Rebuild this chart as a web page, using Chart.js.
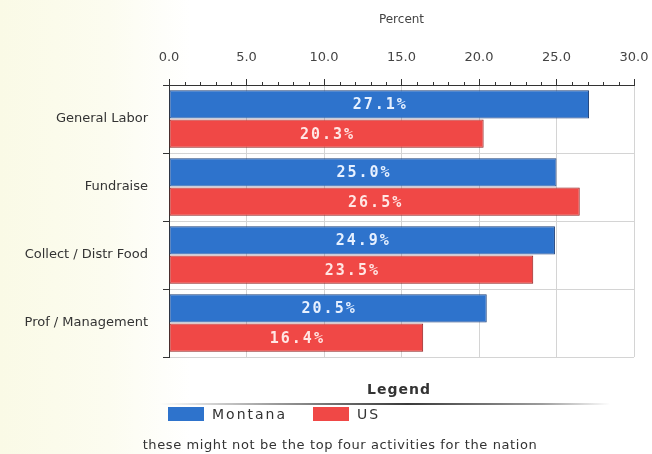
<!DOCTYPE html>
<html>
<head>
<meta charset="utf-8">
<script src="https://cdn.jsdelivr.net/npm/chart.js@4/dist/chart.umd.min.js"></script>
<style>
  body { margin: 0; background: linear-gradient(to right, #fafae6 0px, #fcfcf0 110px, #ffffff 190px); }
  #wrap { position: relative; width: 652px; height: 454px; }
  #legendTitle { position: absolute; left: 367px; top: 381px;
    font: bold 14px "DejaVu Sans", sans-serif; color: #333; letter-spacing: 1px; }
  #legendLine { position: absolute; left: 160px; width: 450px; top: 403px; height: 2px;
    background: linear-gradient(to right, rgba(60,60,60,0) 0%, rgba(60,60,60,0.5) 25%, #3a3a3a 55%, rgba(60,60,60,0.5) 85%, rgba(60,60,60,0) 100%); }
  .item { position: absolute; top: 406px; font: 14px "DejaVu Sans", sans-serif; color: #333; letter-spacing: 2px; }
  .box { display: inline-block; width: 36px; height: 14px; vertical-align: -2px; margin-right: 8px; }
  #note { position: absolute; left: 0; width: 680px; top: 437px; text-align: center; font: 13px "DejaVu Sans", sans-serif; color: #333; letter-spacing: 0.6px; }
</style>
</head>
<body>
<div id="wrap">
  <canvas id="chart" width="652" height="454"></canvas>
  <div id="legendTitle">Legend</div>
  <div id="legendLine"></div>
  <div class="item" style="left:168px"><span class="box" style="background:#2e73cc"></span>Montana</div>
  <div class="item" style="left:313px"><span class="box" style="background:#f04846"></span>US</div>
  <div id="note">these might not be the top four activities for the nation</div>
</div>
<script>
const categories = ["General Labor", "Fundraise", "Collect / Distr Food", "Prof / Management"];
const montana = [27.1, 25.0, 24.9, 20.5];
const us = [20.3, 26.5, 23.5, 16.4];
const seriesNames = ["Montana", "US"];

// small ticks every 1.0 along the top axis
const minorTicks = {
  id: "minorTicks",
  afterDraw(chart) {
    const x = chart.scales.x;
    const ctx = chart.ctx;
    const y = chart.chartArea.top;
    ctx.save();
    ctx.strokeStyle = "#333";
    ctx.lineWidth = 1;
    for (let v = x.min; v <= x.max; v++) {
      if (v % 5 === 0) continue;
      const px = Math.round(x.getPixelForValue(v)) + 0.5;
      ctx.beginPath();
      ctx.moveTo(px, y);
      ctx.lineTo(px, y - 3);
      ctx.stroke();
    }
    ctx.restore();
  }
};

// value labels centred inside each bar
const barLabels = {
  id: "barLabels",
  afterDatasetsDraw(chart) {
    const ctx = chart.ctx;
    ctx.save();
    ctx.font = "bold 15px 'DejaVu Sans Mono', monospace";
    ctx.letterSpacing = "2px";
    ctx.textAlign = "center";
    ctx.textBaseline = "middle";
    chart.data.datasets.forEach((ds, i) => {
      chart.getDatasetMeta(i).data.forEach((bar, j) => {
        ctx.fillStyle = i === 0 ? "#e6f0ff" : "#ffe6e4";
        ctx.fillText(ds.data[j].toFixed(1) + "%", (bar.x + bar.base) / 2 + 1, bar.y + 1);
      });
    });
    ctx.restore();
  }
};

new Chart(document.getElementById("chart"), {
  type: "bar",
  data: {
    labels: categories,
    datasets: [
      { label: seriesNames[0], data: montana, backgroundColor: "#2e73cc", borderColor: "#1c3f78", borderWidth: 1, borderSkipped: false },
      { label: seriesNames[1], data: us, backgroundColor: "#f04846", borderColor: "#8e1c1c", borderWidth: 1, borderSkipped: false }
    ]
  },
  options: {
    indexAxis: "y",
    responsive: false,
    animation: false,
    categoryPercentage: 0.86,
    barPercentage: 0.96,
    layout: { padding: { top: 13, right: 0, bottom: 97, left: 0 } },
    plugins: { legend: { display: false }, tooltip: { enabled: false } },
    scales: {
      x: {
        position: "top",
        min: 0, max: 30,
        afterFit(scale) { scale.paddingRight = 18; },
        ticks: { stepSize: 5, color: "#444", padding: 14, font: { family: "DejaVu Sans", size: 13 },
          callback: v => v.toFixed(1) },
        grid: { color: "#d4d4d4", tickColor: "#333", tickLength: 6 },
        border: { color: "#333" },
        title: { display: true, text: "Percent", color: "#444", padding: { top: 0, bottom: 8 }, font: { family: "DejaVu Sans", size: 12 } }
      },
      y: {
        afterFit(scale) { scale.width = 169; },
        ticks: { color: "#333", padding: 15, font: { family: "DejaVu Sans", size: 13 } },
        grid: { offset: true, color: "#d4d4d4", tickColor: "#333", tickLength: 6 },
        border: { color: "#333" }
      }
    }
  },
  plugins: [minorTicks, barLabels]
});
</script>
</body>
</html>
